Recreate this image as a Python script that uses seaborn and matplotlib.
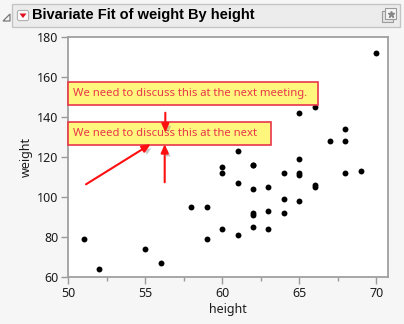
import matplotlib
matplotlib.use("Agg")
import matplotlib.pyplot as plt
import matplotlib.patheffects as pe
from matplotlib.patches import Rectangle, FancyBboxPatch, FancyArrowPatch, Polygon
import seaborn as sns
import pandas as pd

# Big Class style sample: height (in) and weight (lb)
height = [51, 52, 55, 56, 58, 59, 59, 60, 60, 60, 61, 61, 61, 62, 62, 62, 62,
          62, 62, 63, 63, 63, 64, 64, 64, 65, 65, 65, 65, 65, 66, 66, 66, 67,
          68, 68, 68, 69, 70]
weight = [79, 64, 74, 67, 95, 95, 79, 84, 112, 115, 107, 81, 123, 116, 104, 92,
          91, 85, 116, 105, 93, 84, 112, 99, 92, 119, 112, 111, 98, 142, 105,
          106, 145, 128, 112, 134, 128, 113, 172]

note_long = "We need to discuss this at the next meeting."
note_short = "We need to discuss this at the next"
title = "Bivariate Fit of weight By height"
x_ticks = [50, 55, 60, 65, 70]
y_ticks = [60, 80, 100, 120, 140, 160, 180]

df = pd.DataFrame({"height": height, "weight": weight})

sns.set_theme(style="white")
plt.rcParams["font.family"] = ["Noto Sans", "DejaVu Sans"]

BG = "#f6f6f6"
W, H = 404, 324
fig = plt.figure(figsize=(W / 100, H / 100), dpi=100, facecolor=BG)

def px(x0, y0, x1, y1):
    """Convert a pixel box (top-left origin) to figure-fraction rect."""
    return [x0 / W, 1 - y1 / H, (x1 - x0) / W, (y1 - y0) / H]

ax = fig.add_axes(px(68.3, 37.3, 388, 277.3))
ax.set_facecolor("white")

sns.scatterplot(data=df, x="height", y="weight", ax=ax, color="black",
                s=18, linewidth=0, legend=False, zorder=3)

ax.set_xlim(50, 70.76)
ax.set_ylim(60, 180)
ax.set_xticks(x_ticks)
ax.set_yticks(y_ticks)
ax.set_xticks([52.5, 57.5, 62.5, 67.5], minor=True)
ax.tick_params(axis="both", which="major", direction="out", length=5, width=1,
               color="#9a9a9a", labelsize=9, labelcolor="#1c1c1c", pad=2,
               bottom=True, left=True)
ax.tick_params(axis="x", which="minor", direction="out", length=3, width=1,
               color="#9a9a9a", bottom=True)
for s in ax.spines.values():
    s.set_color("#a0a0a0")
    s.set_linewidth(1.3)
ax.set_xlabel("height", fontsize=9, color="#1c1c1c", labelpad=2)
ax.set_ylabel("weight", fontsize=9, color="#1c1c1c", labelpad=3)

# annotation boxes in data units
box_fc = "#fff67e"
box_ec = "#e8364a"
txt_c = "#e8364a"
for (x0, x1, y0, y1, txt) in [(50, 66.23, 146.15, 157.5, note_long),
                               (50, 63.18, 126.15, 137.5, note_short)]:
    ax.add_patch(Rectangle((x0, y0), x1 - x0, y1 - y0, facecolor=box_fc,
                           edgecolor=box_ec, linewidth=1.2, zorder=4,
                           clip_on=False))
    ax.text(x0 + 0.3, (y0 + y1) / 2, txt, color=txt_c, fontsize=8.1,
            va="center", ha="left", zorder=5)

# arrows pointing at the lower note
shadow = [pe.SimplePatchShadow(offset=(2, -2), shadow_rgbFace="#888888",
                               alpha=0.45), pe.Normal()]
for (xa, ya, xb, yb) in [(51.15, 106.5, 55.35, 126.6),
                         (56.26, 107.5, 56.26, 126.6),
                         (56.3, 142.3, 56.3, 132.4)]:
    arr = FancyArrowPatch((xa, ya), (xb, yb), arrowstyle="-|>,head_length=5,head_width=2.2",
                          color="#ff1010", linewidth=1.5, shrinkA=0, shrinkB=0,
                          zorder=6)
    arr.set_path_effects(shadow)
    ax.add_patch(arr)

# header bar
hdr = fig.add_axes([0, 0, 1, 1], zorder=-1)
hdr.set_xlim(0, W)
hdr.set_ylim(H, 0)
hdr.axis("off")
hdr.add_patch(Rectangle((12, 4), 388, 23, facecolor="#ececec",
                        edgecolor="#c4c4c4", linewidth=1))
# disclosure triangle
hdr.add_patch(Polygon([(3, 21), (10, 21), (10, 14)], closed=True,
                      facecolor="none", edgecolor="#7a7a7a", linewidth=0.9))
# red popup button
hdr.add_patch(FancyBboxPatch((18, 11), 10, 9, boxstyle="round,pad=0.6,rounding_size=2",
                             facecolor="#fafafa", edgecolor="#b0b0b0", linewidth=0.8))
hdr.add_patch(Polygon([(19.5, 13.5), (26.5, 13.5), (23, 18)], closed=True,
                      facecolor="#e0101e", edgecolor="none"))
fig.text(32 / W, 1 - 15.5 / H, title, fontsize=10.5, fontweight="bold",
         color="black", va="center", ha="left",
         family=["Liberation Sans", "DejaVu Sans"])
# hover icon at right
hdr.add_patch(Rectangle((382, 11), 11, 11, facecolor="#e4e4e4",
                        edgecolor="#9a9a9a", linewidth=0.8))
hdr.add_patch(Rectangle((385, 8), 11, 11, facecolor="#f4f4f4",
                        edgecolor="#9a9a9a", linewidth=0.8))
hdr.plot([390.5], [13.5], marker="*", color="#888888", markersize=5)

fig.savefig("out.png", dpi=100, facecolor=BG)
